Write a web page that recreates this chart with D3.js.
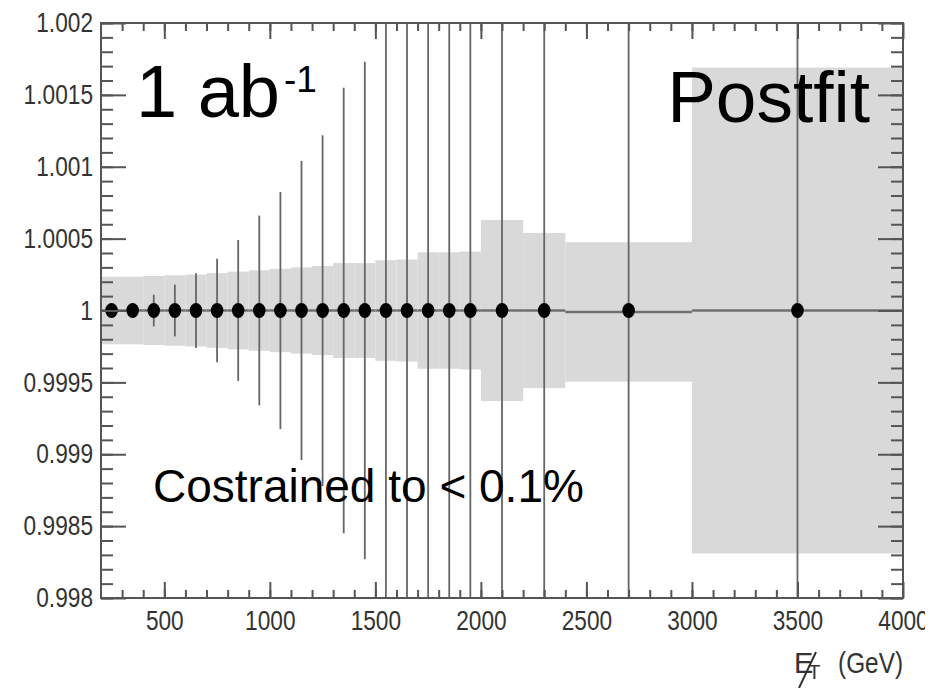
<!DOCTYPE html>
<html>
<head>
<meta charset="utf-8">
<title>Postfit ratio</title>
<script src="https://d3js.org/d3.v7.min.js"></script>
<style>
    body{ margin:0; background:#fff; }
    .tick text{ font-family:"Liberation Sans",Arial,sans-serif; font-size:27px; fill:#333; }
    .big{ font-family:"Liberation Sans",Arial,sans-serif; fill:#000; }
</style>
</head>
<body>
<svg id="chart" width="925" height="688"></svg>
<script>
    // bins of MET (GeV)
    var binLow  = [200,300,400,500,600,700,800,900,1000,1100,1200,1300,1400,1500,1600,1700,1800,1900,2000,2200,2400,3000];
    var binHigh = [300,400,500,600,700,800,900,1000,1100,1200,1300,1400,1500,1600,1700,1800,1900,2000,2200,2400,3000,4000];
    var binCenter = [250,350,450,550,650,750,850,950,1050,1150,1250,1350,1450,1550,1650,1750,1850,1950,2100,2300,2700,3500];
    // postfit ratio and uncertainties (units of 1e-4)
    var fitValue = [1,1,1,1,1,1,1,1,1,1,1,1,1,1,1,1,1,1,1,1,0.99999,1];
    var bandHalf = [2.35,2.35,2.4,2.45,2.5,2.6,2.7,2.8,2.9,3.0,3.1,3.3,3.3,3.5,3.55,4.05,4.05,4.1,6.3,5.4,4.85,16.9];
    var pointValue = [1,1,1,1,1,1,1,1,1,1,1,1,1,1,1,1,1,1,1,1,1,1];
    var errHalf = [0.25,0.5,1.1,1.8,2.6,3.6,4.9,6.6,8.25,10.4,12.2,15.5,17.3,22,26,30,35,40,50,60,90,150];

    var yMajor = [0.998,0.9985,0.999,0.9995,1,1.0005,1.001,1.0015,1.002];
    var yLabels = ["0.998","0.9985","0.999","0.9995","1","1.0005","1.001","1.0015","1.002"];
    var xMajor = [500,1000,1500,2000,2500,3000,3500,4000];

(function(){
    var svg = d3.select("#chart");
    var pl = 101, pr = 903, pt = 23, pb = 598;

    var x = d3.scaleLinear().domain([200,4000]).range([pl,pr]);
    var y = d3.scaleLinear().domain([0.998,1.002]).range([pb,pt]);

    svg.append("clipPath").attr("id","plotclip")
        .append("rect").attr("x",pl).attr("y",pt).attr("width",pr-pl).attr("height",pb-pt);

    var plot = svg.append("g").attr("clip-path","url(#plotclip)");

    // uncertainty band
    plot.selectAll("rect.band").data(binLow).enter().append("rect")
        .attr("class","band")
        .attr("x", function(d,i){ return x(binLow[i]); })
        .attr("width", function(d,i){ return x(binHigh[i]) - x(binLow[i]); })
        .attr("y", function(d,i){ return y(fitValue[i] + bandHalf[i]*1e-4); })
        .attr("height", function(d,i){ return y(fitValue[i] - bandHalf[i]*1e-4) - y(fitValue[i] + bandHalf[i]*1e-4); })
        .attr("fill","#d9d9d9");

    // histogram line
    plot.selectAll("line.hist").data(binLow).enter().append("line")
        .attr("x1", function(d,i){ return x(binLow[i]); })
        .attr("x2", function(d,i){ return x(binHigh[i]); })
        .attr("y1", function(d,i){ return y(fitValue[i]); })
        .attr("y2", function(d,i){ return y(fitValue[i]); })
        .attr("stroke","#707070").attr("stroke-width",2.5);

    // error bars
    plot.selectAll("line.err").data(binCenter).enter().append("line")
        .attr("x1", function(d){ return x(d); })
        .attr("x2", function(d){ return x(d); })
        .attr("y1", function(d,i){ return y(pointValue[i] + errHalf[i]*1e-4); })
        .attr("y2", function(d,i){ return y(pointValue[i] - errHalf[i]*1e-4); })
        .attr("stroke","#666").attr("stroke-width",1.8);

    // points
    plot.selectAll("ellipse").data(binCenter).enter().append("ellipse")
        .attr("cx", function(d){ return x(d); })
        .attr("cy", function(d,i){ return y(pointValue[i]); })
        .attr("rx",6.3).attr("ry",7.5)
        .attr("fill","#000");

    // axes
    var xMinor = d3.range(300,4000,100);
    var yMinor = d3.range(0,41).map(function(i){ return 0.998 + i*0.0001; });

    function styleAxis(g){
        g.select(".domain").remove();
        g.selectAll(".tick line").attr("stroke","#555").attr("stroke-width",2);
    }
    // narrow the tick labels like the original condensed font
    function narrow(g){
        g.selectAll(".tick text").each(function(){
            var w = this.getComputedTextLength();
            d3.select(this).attr("textLength", w*0.84).attr("lengthAdjust","spacingAndGlyphs");
        });
    }

    svg.append("g").attr("transform","translate(0,"+pb+")")
        .call(d3.axisBottom(x).tickValues(xMinor).tickSizeInner(-8).tickSizeOuter(0).tickFormat(""))
        .call(styleAxis);
    svg.append("g").attr("transform","translate(0,"+pb+")")
        .call(d3.axisBottom(x).tickValues(xMajor).tickSizeInner(-16).tickSizeOuter(0).tickPadding(13).tickFormat(d3.format("d")))
        .call(styleAxis).call(narrow);
    svg.append("g").attr("transform","translate(0,"+pt+")")
        .call(d3.axisTop(x).tickValues(xMinor).tickSizeInner(-8).tickSizeOuter(0).tickFormat(""))
        .call(styleAxis);
    svg.append("g").attr("transform","translate(0,"+pt+")")
        .call(d3.axisTop(x).tickValues(xMajor).tickSizeInner(-16).tickSizeOuter(0).tickFormat(""))
        .call(styleAxis);

    svg.append("g").attr("transform","translate("+pl+",0)")
        .call(d3.axisLeft(y).tickValues(yMinor).tickSizeInner(-12).tickSizeOuter(0).tickFormat(""))
        .call(styleAxis);
    svg.append("g").attr("transform","translate("+pl+",0)")
        .call(d3.axisLeft(y).tickValues(yMajor).tickSizeInner(-25).tickSizeOuter(0).tickPadding(8)
            .tickFormat(function(d,i){ return yLabels[i]; }))
        .call(styleAxis).call(narrow);
    svg.append("g").attr("transform","translate("+pr+",0)")
        .call(d3.axisRight(y).tickValues(yMinor).tickSizeInner(-12).tickSizeOuter(0).tickFormat(""))
        .call(styleAxis);
    svg.append("g").attr("transform","translate("+pr+",0)")
        .call(d3.axisRight(y).tickValues(yMajor).tickSizeInner(-25).tickSizeOuter(0).tickFormat(""))
        .call(styleAxis);

    // frame
    svg.append("rect").attr("x",pl).attr("y",pt).attr("width",pr-pl).attr("height",pb-pt)
        .attr("fill","none").attr("stroke","#555").attr("stroke-width",2);

    // annotations
    var lumi = svg.append("text").attr("class","big").attr("x",136).attr("y",117).attr("font-size",74);
    lumi.append("tspan").text("1 ab");
    lumi.append("tspan").attr("font-size",37).attr("dx",4).attr("dy",-25).text("-1");

    svg.append("text").attr("class","big").attr("x",870).attr("y",122).attr("text-anchor","end")
        .attr("font-size",73).text("Postfit");

    svg.append("text").attr("class","big").attr("x",153).attr("y",502)
        .attr("font-size",46).text("Costrained to < 0.1%");

    // x axis title: missing ET (E with slash, subscript T)
    var tf = "'Liberation Sans',Arial,sans-serif";
    var et = svg.append("text").attr("x",794).attr("y",673)
        .attr("font-family",tf).attr("font-size",29).attr("fill","#333");
    et.append("tspan").text("E");
    et.append("tspan").attr("font-size",20).attr("dx",-5).attr("dy",6).text("T");
    et.attr("textLength", et.node().getComputedTextLength()*0.84).attr("lengthAdjust","spacingAndGlyphs");
    var gev = svg.append("text").attr("x",903).attr("y",673).attr("text-anchor","end")
        .attr("font-family",tf).attr("font-size",29).attr("fill","#333").text("(GeV)");
    gev.attr("textLength", gev.node().getComputedTextLength()*0.84).attr("lengthAdjust","spacingAndGlyphs");
    svg.append("line").attr("x1",799).attr("y1",688).attr("x2",816).attr("y2",652)
        .attr("stroke","#333").attr("stroke-width",2);
})();
</script>
</body>
</html>
